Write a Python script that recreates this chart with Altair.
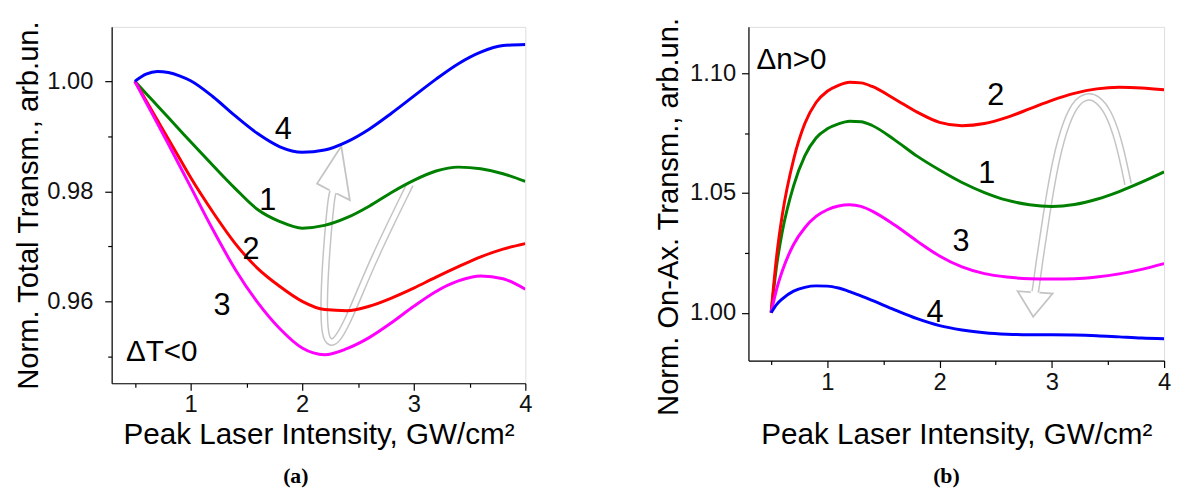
import altair as alt
import pandas as pd

# ---------------- Panel (a) data ----------------
xa = [0.5, 0.6, 0.7, 0.8, 0.9, 1.0, 1.2, 1.4, 1.6, 1.8, 2.0, 2.2, 2.4, 2.6, 2.8, 3.0, 3.2, 3.4, 3.6, 3.8, 4.0]
a_curve1 = [1.0000, 0.9978, 0.9956, 0.9934, 0.9912, 0.9890, 0.9847, 0.9805, 0.9767, 0.9745, 0.9733, 0.9738, 0.9752, 0.9773, 0.9798, 0.9820, 0.9837, 0.9844, 0.9841, 0.9832, 0.9818]
a_curve2 = [1.0000, 0.9965, 0.9930, 0.9895, 0.9860, 0.9825, 0.9762, 0.9705, 0.9660, 0.9627, 0.9600, 0.9585, 0.9583, 0.9591, 0.9606, 0.9624, 0.9644, 0.9663, 0.9681, 0.9695, 0.9705]
a_curve3 = [1.0000, 0.9962, 0.9924, 0.9886, 0.9847, 0.9808, 0.9730, 0.9658, 0.9598, 0.9550, 0.9515, 0.9503, 0.9514, 0.9534, 0.9561, 0.9591, 0.9618, 0.9637, 0.9646, 0.9641, 0.9622]
a_curve4 = [1.0000, 1.0013, 1.0018, 1.0016, 1.0010, 1.0001, 0.9972, 0.9937, 0.9905, 0.9881, 0.9871, 0.9875, 0.9890, 0.9913, 0.9942, 0.9973, 1.0004, 1.0032, 1.0053, 1.0065, 1.0067]

a_label_x = [1.69, 1.54, 1.28, 1.83]
a_label_y = [0.9783, 0.9693, 0.9592, 0.9912]
a_label_t = ["1", "2", "3", "4"]
a_note = "\u0394T<0"
a_note_x = 0.42
a_note_y = 0.9508

a_arrow_x = [2.967, 2.633, 2.433, 2.317, 2.25, 2.20, 2.193, 2.217, 2.26, 2.277]
a_arrow_y = [0.9813, 0.9675, 0.9574, 0.9529, 0.9523, 0.9538, 0.9604, 0.9693, 0.9789, 0.9799]
a_head_x = [2.2455, 2.133, 2.35, 2.427, 2.3085]
a_head_y = [0.9802, 0.9814, 0.9882, 0.9784, 0.9796]

# ---------------- Panel (b) data ----------------
xb = [0.5, 0.55, 0.6, 0.7, 0.8, 0.9, 1.0, 1.1, 1.2, 1.3, 1.4, 1.6, 1.8, 2.0, 2.2, 2.4, 2.6, 2.8, 3.0, 3.2, 3.4, 3.6, 3.8, 4.0]
b_curve1 = [1.000, 1.020, 1.034, 1.053, 1.0655, 1.0730, 1.0768, 1.0789, 1.0800, 1.0798, 1.0782, 1.0722, 1.0654, 1.0596, 1.0544, 1.0502, 1.0470, 1.0451, 1.0444, 1.0452, 1.0474, 1.0506, 1.0545, 1.0588]
b_curve2 = [1.000, 1.024, 1.041, 1.064, 1.0790, 1.0878, 1.0925, 1.0950, 1.0963, 1.0960, 1.0945, 1.0893, 1.0838, 1.0795, 1.0781, 1.0790, 1.0816, 1.0851, 1.0887, 1.0916, 1.0935, 1.0942, 1.0939, 1.0931]
b_curve3 = [1.000, 1.010, 1.0175, 1.0285, 1.0355, 1.0402, 1.0430, 1.0446, 1.0451, 1.0444, 1.0424, 1.0366, 1.0299, 1.0237, 1.0191, 1.0163, 1.0149, 1.0142, 1.0141, 1.0142, 1.0149, 1.0162, 1.0181, 1.0205]
b_curve4 = [1.000, 1.0035, 1.0058, 1.0090, 1.0106, 1.0112, 1.0111, 1.0103, 1.0088, 1.0070, 1.0051, 1.0012, 0.9975, 0.9946, 0.9928, 0.9916, 0.9910, 0.9908, 0.9908, 0.9907, 0.9904, 0.9899, 0.9894, 0.9891]

b_label_x = [2.42, 2.50, 2.19, 1.96]
b_label_y = [1.0578, 1.0903, 1.0295, 0.9997]
b_label_t = ["1", "2", "3", "4"]
b_note = "\u0394n>0"
b_note_x = 0.37
b_note_y = 1.1055

b_arrow_x = [3.679, 3.596, 3.497, 3.397, 3.331, 3.232, 3.132, 3.033, 2.950, 2.884, 2.858, 2.851]
b_arrow_y = [1.0537, 1.0723, 1.0848, 1.0896, 1.0906, 1.0889, 1.0806, 1.0640, 1.0405, 1.0198, 1.0101, 1.0087]
b_head_x = [2.812, 2.695, 2.834, 3.007, 2.890]
b_head_y = [1.0086, 1.0090, 0.9983, 1.0080, 1.0084]

series_names = ["1", "2", "3", "4"]
series_colors = ["#008000", "#ff0000", "#ff00ff", "#0000ff"]

SANS = "Liberation Sans"
SERIF = "Liberation Serif"
ARROW_GRAY = "#c4c4c4"


def long_df(xs, curves):
    rows = []
    for name, ys in zip(series_names, curves):
        for i, (x, y) in enumerate(zip(xs, ys)):
            rows.append({"x": x, "y": y, "s": name, "o": i})
    return pd.DataFrame(rows)


def path_df(xs, ys):
    return pd.DataFrame({"x": xs, "y": ys, "o": list(range(len(xs)))})


def panel(xs, curves, xdomain, ydomain, yvalues, ytest, yfmt, ytitle,
          lab_x, lab_y, lab_t, note, note_x, note_y,
          arr_x, arr_y, head_x, head_y, w, h, ylabpad, xtitlepad, ytitlepad,
          tag, tag_dx, tag_offset, ytitle_y=None):
    xaxis = alt.Axis(
        values=[0.5, 1, 1.5, 2, 2.5, 3, 3.5, 4],
        labelExpr="datum.value % 1 === 0 ? format(datum.value, 'd') : ''",
        tickSize={"condition": {"test": "datum.value % 1 === 0", "value": 7}, "value": 4},
        labelFlush=False, labelOverlap=False, grid=False,
        labelFontSize=24, labelFont=SANS, labelColor="#111111", labelPadding=3,
        title="Peak Laser Intensity, GW/cm\u00b2", titleFont=SANS, titleFontSize=30,
        titleFontWeight="normal", titleColor="black", titlePadding=xtitlepad,
        domainColor="black", tickColor="black", domainWidth=1.2, tickWidth=1.2,
    )
    yargs = dict(
        values=yvalues,
        labelExpr=f"{ytest} ? format(datum.value, '{yfmt}') : ''",
        tickSize={"condition": {"test": ytest, "value": 7}, "value": 4},
        labelFlush=False, labelOverlap=False, grid=False,
        labelFontSize=24, labelFont=SANS, labelColor="#111111", labelPadding=ylabpad,
        title=ytitle, titleFont=SANS, titleFontSize=29.5, titleFontWeight="normal",
        titleColor="black", titlePadding=ytitlepad,
        domainColor="black", tickColor="black", domainWidth=1.2, tickWidth=1.2,
    )
    if ytitle_y is not None:
        yargs["titleY"] = ytitle_y
    yaxis = alt.Axis(**yargs)
    X = alt.X("x:Q", scale=alt.Scale(domain=xdomain, nice=False, zero=False), axis=xaxis)
    Y = alt.Y("y:Q", scale=alt.Scale(domain=ydomain, nice=False, zero=False), axis=yaxis)

    arrow = path_df(arr_x, arr_y)
    shaft_out = alt.Chart(arrow).mark_line(color=ARROW_GRAY, strokeWidth=8, strokeCap="butt",
                                           interpolate="basis").encode(x=X, y=Y, order="o:Q")
    shaft_in = alt.Chart(arrow).mark_line(color="white", strokeWidth=5, strokeCap="round",
                                          interpolate="basis").encode(x=X, y=Y, order="o:Q")
    head = alt.Chart(path_df(head_x, head_y)).mark_line(
        color=ARROW_GRAY, strokeWidth=1.8, strokeJoin="miter").encode(x=X, y=Y, order="o:Q")

    curves_c = alt.Chart(long_df(xs, curves)).mark_line(
        strokeWidth=3, interpolate="monotone", clip=True
    ).encode(
        x=X, y=Y,
        color=alt.Color("s:N", scale=alt.Scale(domain=series_names, range=series_colors), legend=None),
        order="o:Q",
    )
    labels = alt.Chart(pd.DataFrame({"x": lab_x, "y": lab_y, "t": lab_t})).mark_text(
        font=SANS, fontSize=31, color="black", align="center", baseline="middle"
    ).encode(x=X, y=Y, text="t:N")
    notec = alt.Chart(pd.DataFrame({"x": [note_x], "y": [note_y], "t": [note]})).mark_text(
        font=SANS, fontSize=30, color="black", align="left", baseline="middle"
    ).encode(x=X, y=Y, text="t:N")

    return alt.layer(shaft_out, shaft_in, head, curves_c, labels, notec).properties(
        width=w, height=h,
        title=alt.TitleParams(tag, orient="bottom", anchor="middle", font=SERIF, fontSize=22,
                              fontWeight="bold", color="black", dx=tag_dx, offset=tag_offset),
    )


pa = panel(xa, [a_curve1, a_curve2, a_curve3, a_curve4], [0.292, 4.0], [0.9451, 1.0099],
           [0.95, 0.96, 0.97, 0.98, 0.99, 1.00], "round(datum.value * 100) % 2 === 0", ".2f",
           "Norm. Total Transm., arb.un.",
           a_label_x, a_label_y, a_label_t, a_note, a_note_x, a_note_y,
           a_arrow_x, a_arrow_y, a_head_x, a_head_y, 419, 361, 12, 3, 3, "(a)", -23, 17)

pb = panel(xb, [b_curve1, b_curve2, b_curve3, b_curve4], [0.298, 4.0], [0.980, 1.1194],
           [1.0, 1.025, 1.05, 1.075, 1.10], "round(datum.value * 1000) % 50 === 0", ".2f",
           "Norm. On-Ax. Transm., arb.un.",
           b_label_x, b_label_y, b_label_t, b_note, b_note_x, b_note_y,
           b_arrow_x, b_arrow_y, b_head_x, b_head_y, 421, 338, 6, 26, 6, "(b)", -10, 17,
           ytitle_y=192)

chart = alt.hconcat(pa, pb, spacing=121).configure_view(
    stroke="black", strokeWidth=1.2
).configure(padding={"left": 5, "top": 5, "right": 0, "bottom": 0}, background="white")

chart.save("out.html", embed_options={"renderer": "svg", "actions": False})
